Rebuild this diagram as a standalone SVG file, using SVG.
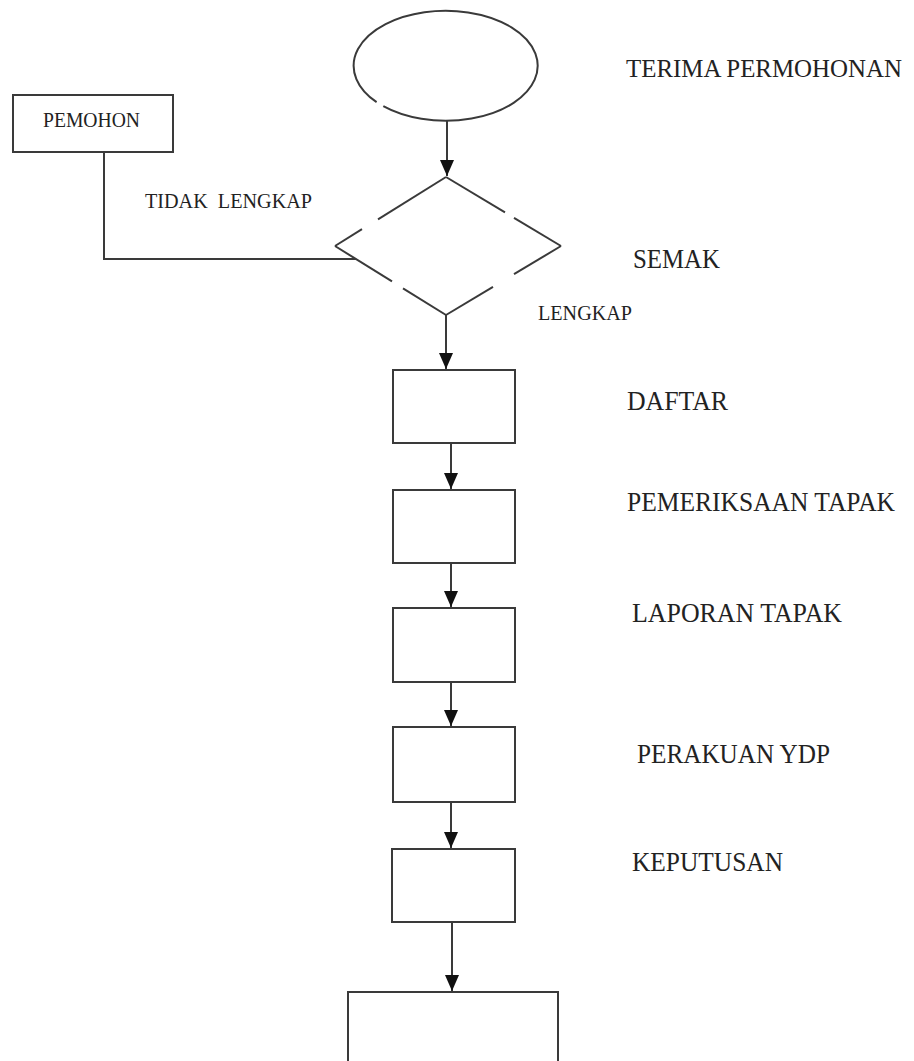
<svg xmlns="http://www.w3.org/2000/svg" width="914" height="1061" viewBox="0 0 914 1061">
<style>
.s{fill:#fff;stroke:#3a3a3a;stroke-width:2}
.l{fill:none;stroke:#3a3a3a;stroke-width:2}
.t{font-family:"Liberation Serif","Times New Roman",serif;fill:#222}
.big{font-size:27px}
.sm{font-size:21px}
</style>
<defs>
<marker id="ah" markerUnits="userSpaceOnUse" markerWidth="16" markerHeight="15" refX="16" refY="7" orient="auto">
<path d="M0,0 L16,7 L0,14 Z" fill="#111"/>
</marker>
</defs>
<rect width="914" height="1061" fill="#fff"/>
<g id="connectors">
<line class="l" x1="447" y1="121" x2="447" y2="176" marker-end="url(#ah)"/>
<polyline class="l" points="104,152 104,259 356,259"/>
<line class="l" x1="446" y1="315" x2="446" y2="369" marker-end="url(#ah)"/>
<line class="l" x1="451" y1="443" x2="451" y2="489" marker-end="url(#ah)"/>
<line class="l" x1="451" y1="563" x2="451" y2="607" marker-end="url(#ah)"/>
<line class="l" x1="451" y1="682" x2="451" y2="726" marker-end="url(#ah)"/>
<line class="l" x1="451" y1="802" x2="451" y2="848" marker-end="url(#ah)"/>
<line class="l" x1="452" y1="922" x2="452" y2="991" marker-end="url(#ah)"/>
</g>
<g id="terima">
<path class="l" d="M383.3 106.2 A92 55 0 1 0 376.6 102.1"/>
<text class="t" font-size="25" x="626" y="77" textLength="276" lengthAdjust="spacingAndGlyphs">TERIMA PERMOHONAN</text>
</g>
<g id="pemohon">
<rect class="s" x="13" y="95" width="160" height="57"/>
<text class="t sm" x="43" y="127" textLength="97" lengthAdjust="spacingAndGlyphs">PEMOHON</text>
</g>
<g id="semak">
<g class="l">
<line x1="446" y1="177" x2="378" y2="219.3"/>
<line x1="362" y1="229.2" x2="335" y2="246"/>
<line x1="335" y1="246" x2="392" y2="281.4"/>
<line x1="403" y1="288.3" x2="446" y2="315"/>
<line x1="446" y1="315" x2="493" y2="286.8"/>
<line x1="514" y1="274.2" x2="561" y2="246"/>
<line x1="561" y1="246" x2="514" y2="217.8"/>
<line x1="505" y1="212.4" x2="446" y2="177"/>
</g>
<text class="t big" x="633" y="268" textLength="87" lengthAdjust="spacingAndGlyphs">SEMAK</text>
<text class="t sm" x="145" y="208" textLength="167" lengthAdjust="spacingAndGlyphs" xml:space="preserve">TIDAK  LENGKAP</text>
<text class="t sm" x="538" y="320" textLength="94" lengthAdjust="spacingAndGlyphs">LENGKAP</text>
</g>
<g id="daftar">
<rect class="s" x="393" y="370" width="122" height="73"/>
<text class="t big" x="627" y="410" textLength="101" lengthAdjust="spacingAndGlyphs">DAFTAR</text>
</g>
<g id="pemeriksaan">
<rect class="s" x="393" y="490" width="122" height="73"/>
<text class="t big" x="627" y="511" textLength="268" lengthAdjust="spacingAndGlyphs">PEMERIKSAAN TAPAK</text>
</g>
<g id="laporan">
<rect class="s" x="393" y="608" width="122" height="74"/>
<text class="t big" x="632" y="622" textLength="210" lengthAdjust="spacingAndGlyphs">LAPORAN TAPAK</text>
</g>
<g id="perakuan">
<rect class="s" x="393" y="727" width="122" height="75"/>
<text class="t big" x="637" y="763" textLength="193" lengthAdjust="spacingAndGlyphs">PERAKUAN YDP</text>
</g>
<g id="keputusan">
<rect class="s" x="392" y="849" width="123" height="73"/>
<text class="t big" x="632" y="871" textLength="151" lengthAdjust="spacingAndGlyphs">KEPUTUSAN</text>
</g>
<g id="akhir">
<rect class="s" x="348" y="992" width="210" height="90"/>
</g>
</svg>
